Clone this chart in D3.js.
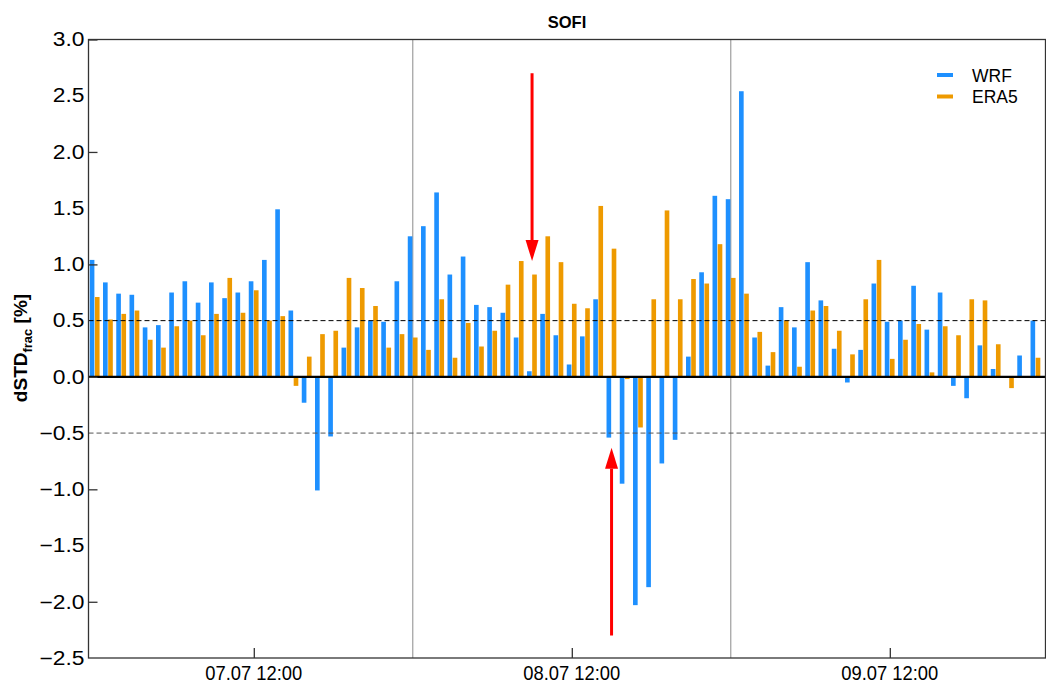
<!DOCTYPE html>
<html><head><meta charset="utf-8">
<script src="https://cdn.jsdelivr.net/npm/d3@7"></script>
<style>body{margin:0;background:#fff}svg{display:block}</style>
</head><body>
<svg id="c" width="1046" height="684"></svg>
<script>
// ---- data ----
const startTime = Date.UTC(2021, 6, 7, 0, 0); // 07.07 00:00, hourly steps
const hours = d3.range(72);
const wrf = [1.04,0.84,0.74,0.73,0.44,0.46,0.75,0.85,0.66,0.84,0.70,0.75,0.85,1.04,1.49,0.59,-0.23,-1.01,-0.53,0.26,0.44,0.50,0.49,0.85,
             1.25,1.34,1.64,0.91,1.07,0.64,0.62,0.57,0.35,0.05,0.56,0.37,0.11,0.36,0.69,-0.54,-0.95,-2.03,-1.87,-0.77,-0.56,0.18,0.93,1.61,
             1.58,2.54,0.35,0.10,0.62,0.44,1.02,0.68,0.25,-0.05,0.24,0.83,0.49,0.50,0.81,0.42,0.75,-0.08,-0.19,0.28,0.07,null,0.19,0.50];
const era5 = [0.71,0.51,0.56,0.59,0.33,0.26,0.45,0.50,0.37,0.56,0.88,0.57,0.77,0.50,0.54,-0.08,0.18,0.38,0.41,0.88,0.79,0.63,0.26,0.38,
              0.35,0.24,0.69,0.17,0.48,0.27,0.41,0.82,1.03,0.91,1.25,1.02,0.65,0.61,1.52,1.14,-0.02,-0.45,0.69,1.48,0.69,0.87,0.83,1.18,
              0.88,0.74,0.40,0.22,0.50,0.09,0.59,0.63,0.41,0.20,0.69,1.04,0.16,0.33,0.47,0.04,0.45,0.37,0.69,0.68,0.29,-0.10,null,0.17];
const seriesNames = ["WRF","ERA5"];
const seriesColors = ["#1E90FF","#EE9A00"];
const yLabelTicks = [3.0,2.5,2.0,1.5,1.0,0.5,0.0,-0.5,-1.0,-1.5,-2.0,-2.5];
const yMajorTicks = [3,2,1,0,-1,-2];
const xTickHours = [12,36,60];
const dayLineHours = [24,48];
const refLines = [0.5,-0.5];
// annotation arrows: [hour, fromValue, toValue]
const arrows = [[33,2.70,1.03],[39,-2.30,-0.63]];
const title = "SOFI";

// ---- layout ----
const L=88.5, R=1045.5, T=39.5, B=658;
const hr = 3600e3;
const svg = d3.select("#c");
const x = d3.scaleTime().domain([new Date(startTime-0.475*hr), new Date(startTime+71.75*hr)]).range([L,R]);
const y = d3.scaleLinear().domain([-2.5,3]).range([B,T]);
const hpx = x(new Date(startTime+hr)) - x(new Date(startTime));
const tOf = h => new Date(startTime + h*hr);
const bw = 0.35*hpx;

// day separators
svg.append("g").selectAll("line").data(dayLineHours).join("line")
  .attr("x1",d=>x(tOf(d))).attr("x2",d=>x(tOf(d))).attr("y1",T).attr("y2",B)
  .attr("stroke","#8a8a8a").attr("stroke-width",1);

// bars
const offsets = [-0.38, 0.01];
[wrf, era5].forEach((vals, si) => {
  svg.append("g").selectAll("rect").data(hours.filter(h=>vals[h]!==null)).join("rect")
    .attr("x", h => x(tOf(h)) + offsets[si]*hpx)
    .attr("width", bw)
    .attr("y", h => Math.min(y(vals[h]), y(0)))
    .attr("height", h => Math.abs(y(vals[h]) - y(0)))
    .attr("fill", seriesColors[si]);
});

// reference dashed lines
svg.append("g").selectAll("line").data(refLines).join("line")
  .attr("x1",L).attr("x2",R).attr("y1",d=>y(d)).attr("y2",d=>y(d))
  .attr("stroke",(d,i)=>i===0?"#000":"#555").attr("stroke-width",1).attr("stroke-dasharray","5,3");

// zero line
svg.append("line").attr("x1",L).attr("x2",R).attr("y1",y(0)).attr("y2",y(0))
  .attr("stroke","#000").attr("stroke-width",2.4);

// frame
svg.append("rect").attr("x",L).attr("y",T).attr("width",R-L).attr("height",B-T)
  .attr("fill","none").attr("stroke","#333").attr("stroke-width",1.3);

// y axis: labels
const yAx = svg.append("g").attr("transform",`translate(${L},0)`)
  .call(d3.axisLeft(y).tickValues(yLabelTicks).tickSize(0).tickPadding(4)
        .tickFormat(d => d3.format(".1f")(d).replace("-","\u2212")));
yAx.select(".domain").remove();
yAx.selectAll("text").attr("x",0).attr("transform","translate(-4,0) scale(1.17,1)")
  .attr("font-family","Liberation Sans, Arial, sans-serif").attr("font-size",19.5).attr("fill","#000");
// y axis major ticks (inward)
const yT = svg.append("g").attr("transform",`translate(${L},0)`)
  .call(d3.axisRight(y).tickValues(yMajorTicks).tickSize(9).tickFormat(""));
yT.select(".domain").remove();
yT.selectAll("line").attr("stroke","#333").attr("stroke-width",1.3);

// x axis
const xAx = svg.append("g").attr("transform",`translate(0,${B})`)
  .call(d3.axisTop(x).tickValues(xTickHours.map(tOf)).tickSize(10).tickFormat(""));
xAx.select(".domain").remove();
xAx.selectAll("line").attr("stroke","#333").attr("stroke-width",1.3);
const xfmt = d3.utcFormat("%d.%m %H:%M");
svg.append("g").selectAll("text").data(xTickHours).join("text")
  .attr("x",d=>x(tOf(d))).attr("y",B+22).attr("text-anchor","middle")
  .attr("font-family","Liberation Sans, Arial, sans-serif").attr("font-size",20)
  .attr("textLength",97).attr("lengthAdjust","spacingAndGlyphs")
  .text(d=>xfmt(tOf(d)));

// title
svg.append("text").attr("x",(L+R)/2).attr("y",28).attr("text-anchor","middle")
  .attr("font-family","Liberation Sans, Arial, sans-serif").attr("font-weight","bold").attr("font-size",16.5)
  .text(title);

// y label
const yl = svg.append("text").attr("transform",`translate(27,${348}) rotate(-90)`).attr("text-anchor","middle")
  .attr("font-family","Liberation Sans, Arial, sans-serif").attr("font-weight","bold").attr("font-size",19);
yl.append("tspan").text("dSTD");
yl.append("tspan").attr("font-size",13).attr("dy",5).text("frac");
yl.append("tspan").attr("dy",-5).text(" [%]");

// legend
const lg = svg.append("g").selectAll("g").data(seriesNames).join("g")
  .attr("transform",(d,i)=>`translate(937,${75+i*21.5})`);
lg.append("line").attr("x1",0).attr("x2",16).attr("stroke",(d,i)=>seriesColors[i]).attr("stroke-width",4);
lg.append("text").attr("x",35).attr("y",6.5).attr("font-family","Liberation Sans, Arial, sans-serif")
  .attr("font-size",17.5).text(d=>d);

// arrows
const ag = svg.append("g");
arrows.forEach(([h,v0,v1]) => {
  const ax = x(tOf(h)), y0 = y(v0), y1 = y(v1);
  const dir = Math.sign(y1-y0), hl = 21, hw = 6.5;
  ag.append("line").attr("x1",ax).attr("x2",ax).attr("y1",y0).attr("y2",y1 - dir*hl)
    .attr("stroke","#FF0000").attr("stroke-width",3);
  ag.append("path").attr("d",`M${ax-hw},${y1-dir*hl} L${ax+hw},${y1-dir*hl} L${ax},${y1} Z`).attr("fill","#FF0000");
});
</script>
</body></html>
